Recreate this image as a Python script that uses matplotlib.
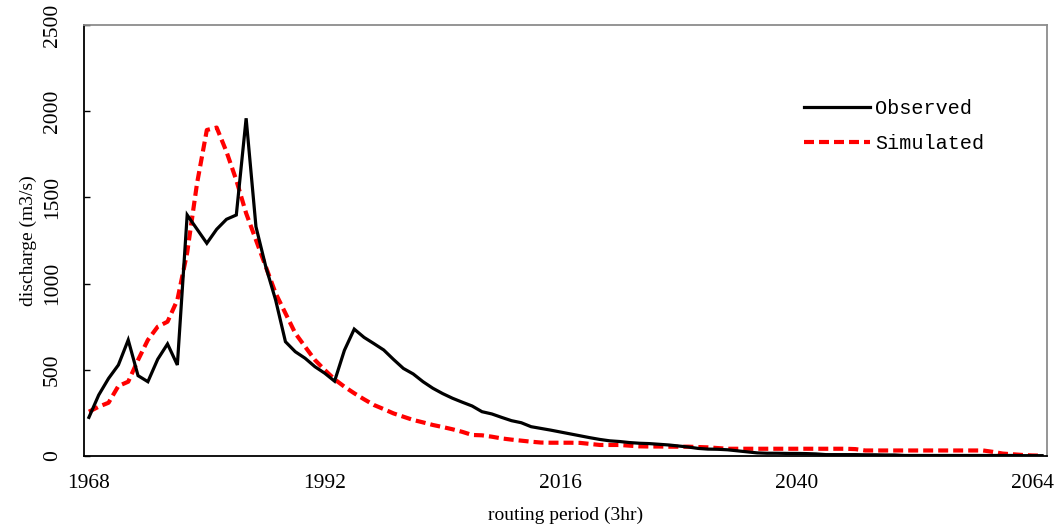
import numpy as np
import matplotlib.pyplot as plt

# routing periods, one value per 3-hour step
periods = np.arange(1968, 2066)

observed = [
    224, 354, 450, 528, 673, 466, 431, 561, 650, 528,
    1398, 1316, 1234, 1315, 1373, 1398, 1959, 1330, 1098, 905,
    663, 605, 567, 518, 480, 434, 613, 736, 688, 652,
    615, 560, 508, 476, 431, 393, 362, 335, 312, 290,
    257, 244, 224, 205, 193, 170, 160, 150, 139, 128,
    117, 106, 96, 88, 84, 78, 74, 72, 68, 64,
    58, 52, 44, 40, 39, 36, 30, 24, 18, 16,
    16, 15, 15, 14, 12, 8, 8, 8, 8, 7,
    7, 6, 6, 3, 3, 3, 3, 3, 3, 3,
    3, 3, 3, 3, 3, 2, 2, 2,
]

simulated = [
    257, 286, 309, 406, 431, 557, 673, 750, 779, 905,
    1180, 1580, 1891, 1905, 1765, 1600, 1408, 1253, 1098, 944,
    828, 712, 634, 557, 499, 445, 402, 364, 329, 296,
    272, 247, 228, 209, 195, 180, 168, 155, 140, 122,
    120, 112, 102, 95, 89, 83, 78, 77, 77, 77,
    76, 70, 64, 64, 64, 60, 56, 55, 55, 54,
    54, 54, 52, 50, 46, 42, 42, 42, 42, 42,
    42, 42, 42, 42, 42, 42, 42, 42, 40, 32,
    32, 32, 32, 32, 32, 32, 32, 32, 32, 32,
    32, 32, 24, 14, 10, 6, 3, 2,
]

xticks = [1968, 1992, 2016, 2040, 2064]
yticks = [0, 500, 1000, 1500, 2000, 2500]

plt.rcParams['font.family'] = ['Liberation Serif', 'DejaVu Serif']

fig = plt.figure(figsize=(10.61, 5.28), dpi=100)
ax = fig.add_axes([84 / 1061, 1 - 456 / 528, (1047 - 84) / 1061, (456 - 25) / 528])

ax.plot(periods, observed, color='black', lw=2.3, label='Observed',
        solid_joinstyle='miter', zorder=3)
ax.plot(periods, simulated, color='#ff0000', lw=3, linestyle=(0, (2.4, 1.2)),
        label='Simulated', zorder=2)

ax.set_xlim(1967.5, 2065.5)
ax.set_ylim(0, 2500)
ax.set_xticks(xticks)
ax.set_yticks(yticks)
ax.tick_params(axis='x', length=0, labelsize=15.5, pad=13)
ax.tick_params(axis='y', direction='in', length=4.5, width=1, labelsize=15.5, pad=16)
for lbl in ax.get_yticklabels():
    lbl.set_rotation(90)
    lbl.set_va('center')

for side in ['left', 'bottom']:
    ax.spines[side].set_color('black')
    ax.spines[side].set_linewidth(1.3)
for side in ['top', 'right']:
    ax.spines[side].set_color('#8c8c8c')
    ax.spines[side].set_linewidth(1.3)

ax.set_xlabel('routing period (3hr)', fontsize=14)
ax.xaxis.set_label_coords(0.5, -0.118)
ax.set_ylabel('discharge (m3/s)', fontsize=14)
ax.yaxis.set_label_coords(-0.049, 0.5)

leg = ax.legend(loc='upper left', bbox_to_anchor=(804 / 1061, 1 - 99 / 528),
                bbox_transform=fig.transFigure, frameon=False,
                prop={'family': 'Liberation Mono', 'size': 14.5},
                handlelength=3.3, handletextpad=0.25, labelspacing=0.8,
                borderpad=0, borderaxespad=0)

fig.savefig('out.png', dpi=100)
